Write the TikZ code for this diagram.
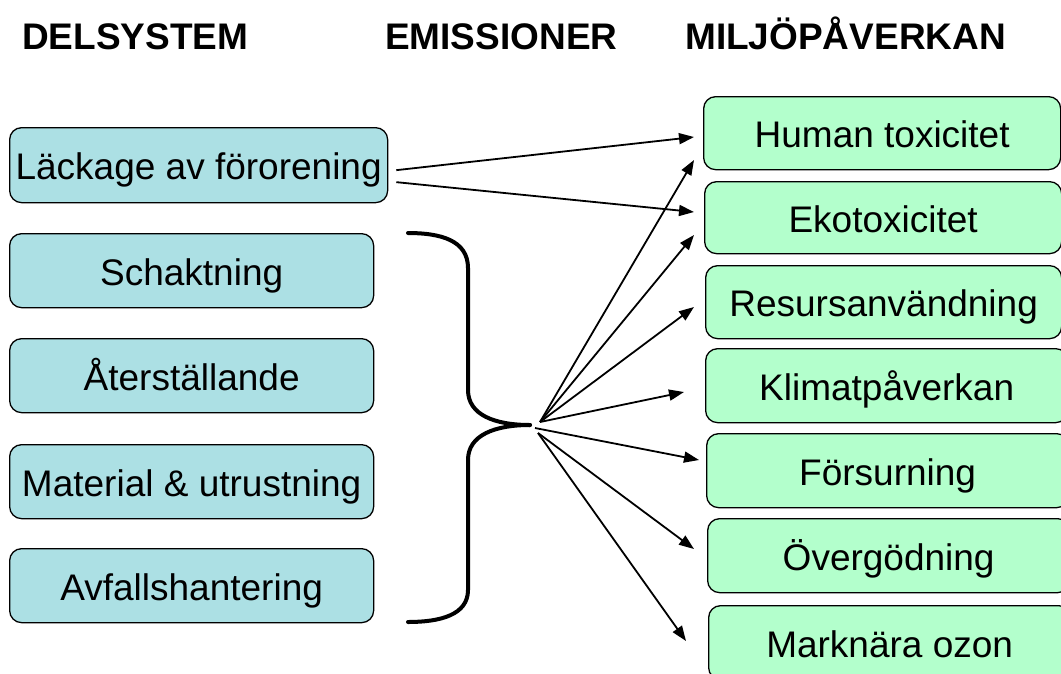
\documentclass[tikz,border=0pt]{standalone}
\usepackage{fontspec}
\setmainfont{Liberation Sans}
\usetikzlibrary{arrows.meta}
\definecolor{leftfill}{HTML}{ACE0E4}
\definecolor{rightfill}{HTML}{B3FFCC}
\tikzset{
  head/.style={font=\fontsize{37}{40}\selectfont\bfseries, anchor=base west, inner sep=0pt},
  boxbase/.style={draw=black, line width=1.3pt, rounded corners=12pt, anchor=north west, inner sep=0pt, text height=35pt, text depth=6pt, font=\fontsize{37}{40}\selectfont},
  lbox/.style={boxbase, fill=leftfill},
  rbox/.style={boxbase, fill=rightfill},
  arr/.style={line width=1.8pt, -{Triangle[length=15pt,width=11pt]}},
  bracestyle/.style={line width=4pt, line cap=round},
}
\begin{document}
\begin{tikzpicture}[x=1pt,y=-1pt]
\useasboundingbox (0,0) rectangle (1061,673);
\clip (0,0) rectangle (1061,673);
% headings
\node[head] (h1) at (22,49) {DELSYSTEM};
\node[head] (h2) at (385,49) {EMISSIONER};
\node[head] (h3) at (685,49) {MILJÖPÅVERKAN};
% left boxes
\node[lbox, minimum width=378pt, minimum height=75pt] (leak) at (9,127) {Läckage av förorening};
\node[lbox, minimum width=364pt, minimum height=74pt] (schakt) at (9,233) {Schaktning};
\node[lbox, minimum width=364pt, minimum height=74pt] (ater) at (9,338) {Återställande};
\node[lbox, minimum width=364pt, minimum height=74pt] (mat) at (9,444) {Material \& utrustning};
\node[lbox, minimum width=364pt, minimum height=74pt] (avf) at (9,548) {Avfallshantering};
% right boxes
\node[rbox, minimum width=357pt, minimum height=73pt] (human) at (703,96) {Human toxicitet};
\node[rbox, minimum width=357pt, minimum height=72pt] (eko) at (704,181) {Ekotoxicitet};
\node[rbox, minimum width=356pt, minimum height=73pt] (res) at (705,265) {Resursanvändning};
\node[rbox, minimum width=362pt, minimum height=74pt] (klim) at (705,348) {Klimatpåverkan};
\node[rbox, minimum width=362pt, minimum height=74pt] (fors) at (706,433) {Försurning};
\node[rbox, minimum width=362pt, minimum height=74pt] (over) at (707,518) {Övergödning};
\node[rbox, minimum width=362pt, minimum height=74pt] (mark) at (708,605) {Marknära ozon};
% brace
\coordinate (btop) at (408,233);
\coordinate (bbot) at (408,622);
\coordinate (tip) at (530,425);
\draw[bracestyle] (btop) .. controls (440,233) and (468,240) .. (468,268)
  -- (468,390) .. controls (468,415) and (495,425) .. (tip);
\draw[bracestyle] (tip) .. controls (495,425) and (468,435) .. (468,460)
  -- (468,590) .. controls (468,615) and (440,622) .. (bbot);
% emission sources
\coordinate (e1) at (540,422);
\coordinate (e2) at (535,428);
\coordinate (e3) at (538,433);
% targets
\coordinate (t1) at (694,160);
\coordinate (t2) at (694,235);
\coordinate (t3) at (694,307);
\coordinate (t4) at (684,392);
\coordinate (t5) at (699,460);
\coordinate (t6) at (694,549);
\coordinate (t7) at (686,641);
\coordinate (la) at (694,137);
\coordinate (lb) at (694,212);
\draw[arr] ([xshift=8pt,yshift=-5pt]leak.east) -- (la);
\draw[arr] ([xshift=8pt,yshift=-17pt]leak.east) -- (lb);
\draw[arr] (e1) -- (t1);
\draw[arr] (e1) -- (t2);
\draw[arr] (e1) -- (t3);
\draw[arr] (e1) -- (t4);
\draw[arr] (e2) -- (t5);
\draw[arr] (e3) -- (t6);
\draw[arr] (e3) -- (t7);
\end{tikzpicture}
\end{document}
